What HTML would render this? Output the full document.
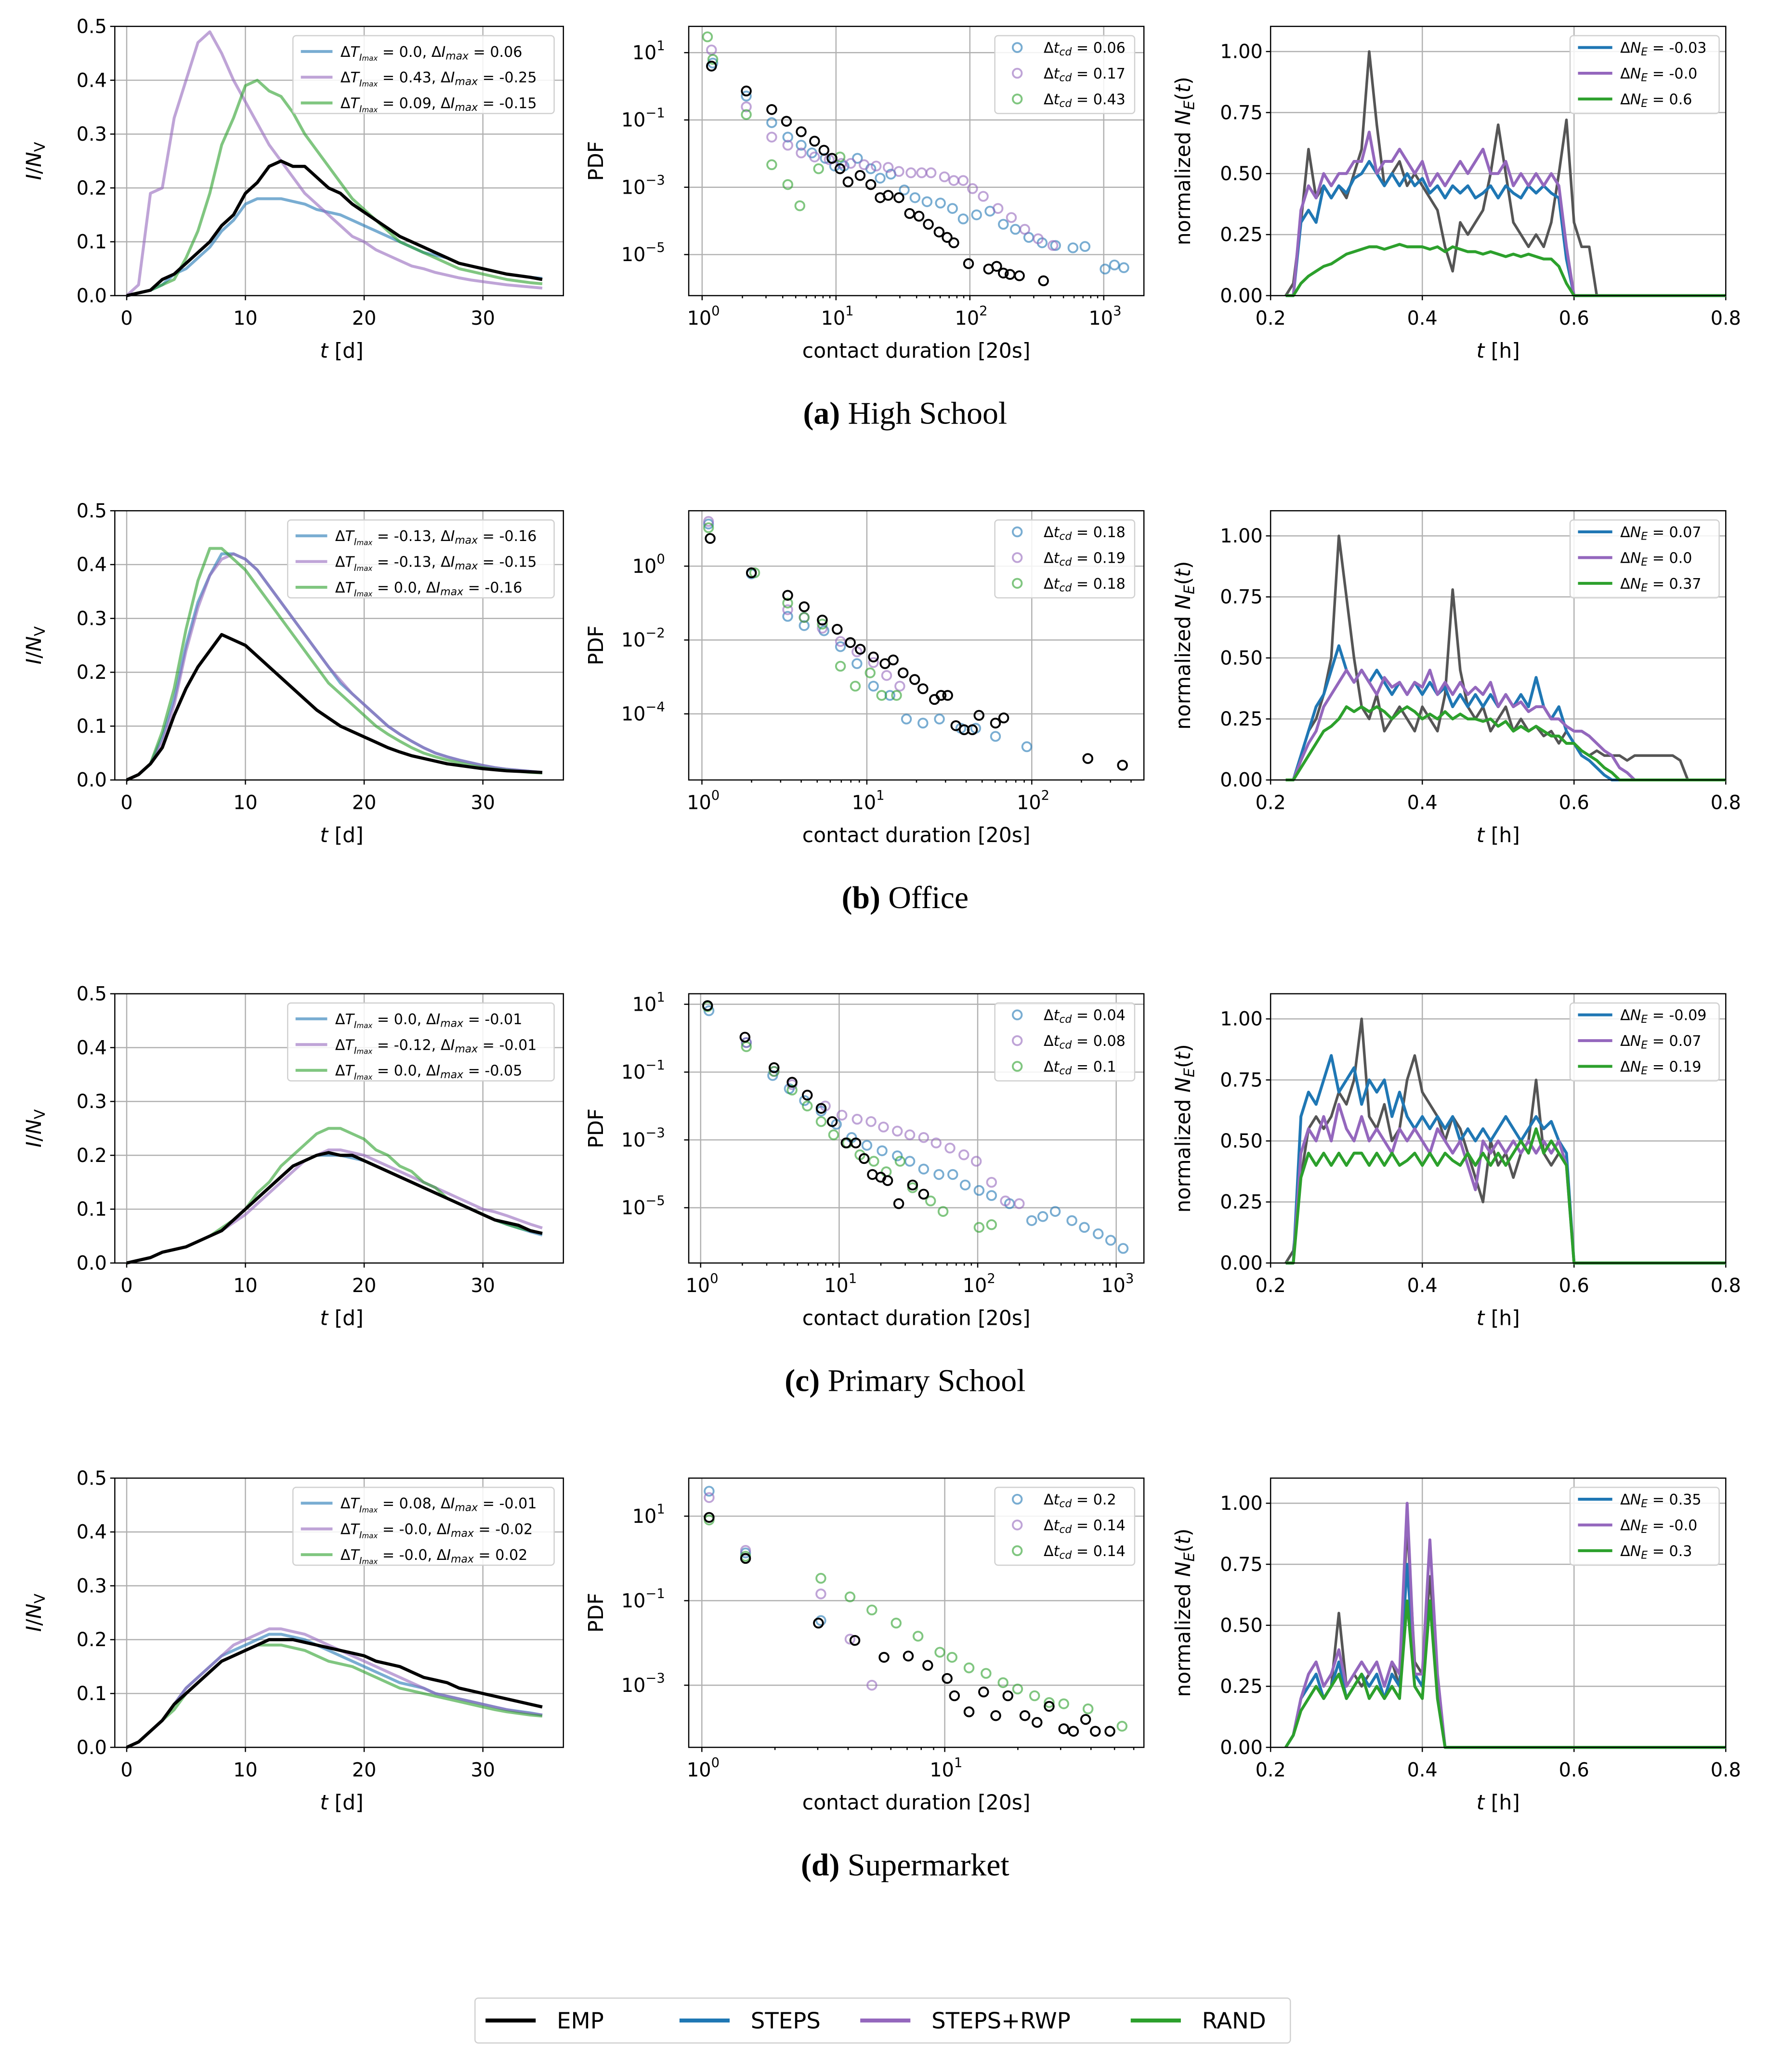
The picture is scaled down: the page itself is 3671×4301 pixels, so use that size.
<!DOCTYPE html>
<html><head><meta charset="utf-8">
<style>
html,body{margin:0;padding:0;background:#fff;}
svg{display:block;}
text{font-family:"DejaVu Sans","Liberation Sans",sans-serif;}
</style></head>
<body>
<svg id="fig" xmlns="http://www.w3.org/2000/svg" width="3671" height="4301" viewBox="0 0 1340 1570">
<rect x="0" y="0" width="1340" height="1570" fill="#fff"/>
</svg>
<script>
// ---------- DATA: epidemic curves (I/N_V per day, t=0..35) ----------
const daysT=[0,1,2,3,4,5,6,7,8,9,10,11,12,13,14,15,16,17,18,19,20,21,22,23,24,25,26,27,28,29,30,31,32,33,34,35];
const epiA_emp=[0,0.005,0.01,0.03,0.04,0.06,0.08,0.1,0.13,0.15,0.19,0.21,0.24,0.25,0.24,0.24,0.22,0.2,0.19,0.17,0.155,0.14,0.125,0.11,0.1,0.09,0.08,0.07,0.06,0.055,0.05,0.045,0.04,0.037,0.034,0.03];
const epiA_steps=[0,0.005,0.01,0.02,0.04,0.05,0.07,0.09,0.12,0.14,0.17,0.18,0.18,0.18,0.175,0.17,0.16,0.155,0.15,0.14,0.13,0.12,0.11,0.1,0.09,0.08,0.075,0.07,0.06,0.055,0.05,0.045,0.04,0.037,0.034,0.032];
const epiA_rwp=[0,0.02,0.19,0.2,0.33,0.4,0.47,0.49,0.45,0.4,0.36,0.32,0.28,0.25,0.22,0.19,0.17,0.15,0.13,0.11,0.1,0.085,0.075,0.065,0.055,0.05,0.043,0.038,0.033,0.029,0.026,0.023,0.02,0.018,0.016,0.014];
const epiA_rand=[0,0.005,0.01,0.02,0.03,0.07,0.12,0.19,0.28,0.33,0.39,0.4,0.38,0.37,0.34,0.3,0.27,0.24,0.21,0.18,0.16,0.14,0.12,0.1,0.09,0.08,0.07,0.06,0.05,0.045,0.04,0.035,0.03,0.027,0.024,0.022];
const epiB_emp=[0,0.01,0.03,0.06,0.12,0.17,0.21,0.24,0.27,0.26,0.25,0.23,0.21,0.19,0.17,0.15,0.13,0.115,0.1,0.09,0.08,0.07,0.06,0.052,0.045,0.04,0.035,0.03,0.027,0.024,0.021,0.019,0.017,0.016,0.015,0.014];
const epiB_steps=[0,0.01,0.03,0.08,0.15,0.25,0.33,0.38,0.42,0.42,0.41,0.39,0.36,0.33,0.3,0.27,0.24,0.21,0.18,0.16,0.14,0.12,0.1,0.085,0.072,0.06,0.05,0.043,0.037,0.032,0.027,0.023,0.02,0.018,0.016,0.014];
const epiB_rwp=[0,0.01,0.03,0.07,0.14,0.24,0.32,0.38,0.41,0.42,0.41,0.39,0.36,0.33,0.3,0.27,0.24,0.21,0.185,0.16,0.14,0.12,0.1,0.085,0.072,0.06,0.05,0.043,0.037,0.032,0.027,0.023,0.02,0.018,0.016,0.014];
const epiB_rand=[0,0.01,0.03,0.09,0.17,0.28,0.37,0.43,0.43,0.41,0.39,0.36,0.33,0.3,0.27,0.24,0.21,0.18,0.16,0.14,0.12,0.1,0.085,0.072,0.06,0.05,0.043,0.037,0.032,0.027,0.023,0.02,0.018,0.016,0.014,0.013];
const epiC_emp=[0,0.005,0.01,0.02,0.025,0.03,0.04,0.05,0.06,0.08,0.1,0.12,0.14,0.16,0.18,0.19,0.2,0.205,0.2,0.2,0.19,0.18,0.17,0.16,0.15,0.14,0.13,0.12,0.11,0.1,0.09,0.08,0.075,0.07,0.06,0.055];
const epiC_steps=[0,0.005,0.01,0.02,0.025,0.03,0.04,0.05,0.06,0.08,0.1,0.12,0.14,0.16,0.18,0.19,0.2,0.2,0.2,0.195,0.19,0.18,0.17,0.16,0.15,0.14,0.13,0.12,0.11,0.1,0.09,0.08,0.072,0.065,0.058,0.052];
const epiC_rwp=[0,0.005,0.01,0.02,0.025,0.03,0.04,0.05,0.06,0.075,0.09,0.11,0.13,0.15,0.17,0.19,0.2,0.21,0.21,0.205,0.2,0.19,0.18,0.17,0.16,0.15,0.14,0.13,0.12,0.11,0.1,0.095,0.088,0.08,0.072,0.065];
const epiC_rand=[0,0.005,0.01,0.02,0.025,0.03,0.04,0.05,0.065,0.08,0.1,0.13,0.15,0.18,0.2,0.22,0.24,0.25,0.25,0.24,0.23,0.21,0.2,0.18,0.17,0.15,0.14,0.12,0.11,0.1,0.09,0.08,0.072,0.065,0.06,0.055];
const epiD_emp=[0,0.01,0.03,0.05,0.08,0.1,0.12,0.14,0.16,0.17,0.18,0.19,0.2,0.2,0.2,0.195,0.19,0.185,0.18,0.175,0.17,0.16,0.155,0.15,0.14,0.13,0.125,0.12,0.11,0.105,0.1,0.095,0.09,0.085,0.08,0.075];
const epiD_steps=[0,0.01,0.03,0.05,0.08,0.11,0.13,0.15,0.17,0.18,0.19,0.2,0.21,0.21,0.205,0.2,0.19,0.18,0.17,0.16,0.15,0.14,0.13,0.12,0.115,0.11,0.1,0.095,0.09,0.085,0.08,0.075,0.07,0.067,0.064,0.06];
const epiD_rwp=[0,0.01,0.03,0.05,0.08,0.11,0.13,0.15,0.17,0.19,0.2,0.21,0.22,0.22,0.215,0.21,0.2,0.19,0.18,0.17,0.16,0.15,0.14,0.13,0.12,0.11,0.1,0.095,0.09,0.085,0.08,0.075,0.07,0.066,0.063,0.06];
const epiD_rand=[0,0.01,0.03,0.05,0.07,0.1,0.12,0.14,0.16,0.17,0.18,0.19,0.19,0.19,0.185,0.18,0.17,0.16,0.155,0.15,0.14,0.13,0.12,0.11,0.105,0.1,0.095,0.09,0.085,0.08,0.075,0.07,0.066,0.063,0.06,0.058];

// ---------- DATA: contact duration PDF (log10 x, log10 y pairs) ----------
const pdfA_emp=[[0.07,0.6],[0.33,-0.14],[0.52,-0.69],[0.63,-1.04],[0.74,-1.35],[0.84,-1.63],[0.91,-1.9],[0.97,-2.14],[1.03,-2.45],[1.09,-2.84],[1.18,-2.65],[1.26,-2.92],[1.33,-3.31],[1.39,-3.24],[1.47,-3.31],[1.55,-3.78],[1.62,-3.86],[1.69,-4.1],[1.77,-4.33],[1.83,-4.49],[1.88,-4.65],[1.99,-5.27],[2.14,-5.43],[2.2,-5.35],[2.25,-5.55],[2.3,-5.59],[2.37,-5.63],[2.55,-5.78]];
const pdfA_steps=[[0.08,0.69],[0.33,-0.29],[0.52,-1.08],[0.64,-1.51],[0.74,-1.75],[0.82,-1.98],[0.92,-2.14],[0.99,-2.37],[1.06,-2.37],[1.16,-2.14],[1.26,-2.45],[1.33,-2.73],[1.41,-2.61],[1.51,-3.08],[1.59,-3.31],[1.68,-3.43],[1.78,-3.47],[1.87,-3.63],[1.95,-3.94],[2.05,-3.82],[2.15,-3.71],[2.25,-4.1],[2.34,-4.25],[2.44,-4.49],[2.54,-4.65],[2.64,-4.73],[2.77,-4.8],[2.86,-4.76],[3.01,-5.43],[3.08,-5.31],[3.15,-5.39]];
const pdfA_rwp=[[0.07,1.08],[0.33,-0.61],[0.52,-1.51],[0.64,-1.75],[0.74,-1.98],[0.84,-2.1],[0.95,-2.18],[1.04,-2.29],[1.11,-2.29],[1.21,-2.33],[1.3,-2.37],[1.39,-2.41],[1.47,-2.53],[1.56,-2.57],[1.64,-2.57],[1.71,-2.57],[1.81,-2.69],[1.88,-2.8],[1.95,-2.8],[2.02,-3.04],[2.1,-3.27],[2.21,-3.63],[2.31,-3.9],[2.41,-4.25],[2.51,-4.53],[2.62,-4.73]];
const pdfA_rand=[[0.04,1.47],[0.08,0.8],[0.33,-0.84],[0.52,-2.33],[0.64,-2.92],[0.73,-3.55],[0.87,-2.45],[1.03,-2.1]];
const pdfB_emp=[[0.05,0.75],[0.3,-0.18],[0.52,-0.79],[0.62,-1.1],[0.73,-1.46],[0.82,-1.71],[0.9,-2.07],[0.96,-2.25],[1.04,-2.46],[1.11,-2.64],[1.16,-2.54],[1.22,-2.89],[1.29,-3.07],[1.34,-3.32],[1.41,-3.61],[1.45,-3.5],[1.49,-3.5],[1.54,-4.32],[1.59,-4.43],[1.64,-4.43],[1.68,-4.04],[1.78,-4.25],[1.83,-4.11],[2.34,-5.21],[2.55,-5.39]];
const pdfB_steps=[[0.04,1.14],[0.3,-0.21],[0.52,-1.36],[0.62,-1.61],[0.74,-1.75],[0.84,-2.18],[0.94,-2.64],[1.04,-3.25],[1.14,-3.5],[1.24,-4.14],[1.34,-4.25],[1.44,-4.14],[1.57,-4.39],[1.66,-4.39],[1.78,-4.61],[1.97,-4.89]];
const pdfB_rwp=[[0.04,1.21],[0.3,-0.18],[0.52,-1.18],[0.62,-1.39],[0.73,-1.68],[0.84,-2.04],[0.94,-2.32],[1.04,-2.61],[1.12,-2.96],[1.2,-3.25]];
const pdfB_rand=[[0.04,1.04],[0.32,-0.18],[0.52,-1.0],[0.62,-1.39],[0.73,-1.57],[0.84,-2.71],[0.93,-3.25],[1.02,-2.89],[1.09,-3.5],[1.18,-3.5]];
const pdfC_emp=[[0.05,0.96],[0.32,0.03],[0.53,-0.87],[0.66,-1.3],[0.77,-1.68],[0.87,-2.07],[0.95,-2.46],[1.05,-3.09],[1.12,-3.09],[1.18,-3.55],[1.24,-4.02],[1.3,-4.1],[1.35,-4.2],[1.43,-4.88],[1.53,-4.33],[1.61,-4.6]];
const pdfC_steps=[[0.06,0.81],[0.33,-0.13],[0.52,-1.1],[0.64,-1.49],[0.75,-1.84],[0.87,-2.15],[0.98,-2.54],[1.09,-2.93],[1.2,-3.16],[1.31,-3.32],[1.42,-3.47],[1.51,-3.63],[1.61,-3.86],[1.72,-4.02],[1.82,-4.02],[1.91,-4.33],[2.01,-4.49],[2.1,-4.64],[2.23,-4.88],[2.39,-5.38],[2.47,-5.26],[2.56,-5.11],[2.68,-5.38],[2.77,-5.58],[2.87,-5.77],[2.96,-5.96],[3.05,-6.2]];
const pdfC_rwp=[[0.05,0.96],[0.33,-0.13],[0.53,-0.98],[0.66,-1.37],[0.77,-1.68],[0.9,-2.0],[1.02,-2.27],[1.13,-2.39],[1.23,-2.46],[1.32,-2.62],[1.42,-2.74],[1.51,-2.85],[1.61,-2.93],[1.7,-3.09],[1.8,-3.24],[1.9,-3.44],[1.99,-3.63],[2.1,-4.25],[2.2,-4.8],[2.3,-4.88]];
const pdfC_rand=[[0.05,0.93],[0.33,-0.25],[0.53,-0.98],[0.66,-1.53],[0.77,-2.0],[0.87,-2.46],[0.96,-2.85],[1.06,-3.09],[1.15,-3.44],[1.25,-3.63],[1.34,-3.94],[1.44,-3.63],[1.53,-4.41],[1.66,-4.8],[1.75,-5.11],[2.01,-5.58],[2.1,-5.5]];
const pdfD_emp=[[0.03,0.97],[0.18,0],[0.48,-1.53],[0.63,-1.94],[0.75,-2.34],[0.85,-2.31],[0.93,-2.53],[1.01,-2.84],[1.04,-3.25],[1.1,-3.63],[1.16,-3.16],[1.21,-3.72],[1.26,-3.25],[1.33,-3.72],[1.38,-3.88],[1.43,-3.5],[1.49,-4.03],[1.53,-4.09],[1.58,-3.81],[1.62,-4.09],[1.68,-4.09]];
const pdfD_steps=[[0.03,1.59],[0.18,0.13],[0.49,-1.47]];
const pdfD_rwp=[[0.03,1.44],[0.18,0.19],[0.49,-0.84],[0.61,-1.91],[0.7,-3.0]];
const pdfD_rand=[[0.03,0.91],[0.18,0.05],[0.49,-0.47],[0.61,-0.91],[0.7,-1.22],[0.8,-1.53],[0.89,-1.84],[0.98,-2.22],[1.03,-2.34],[1.1,-2.59],[1.17,-2.72],[1.24,-2.94],[1.3,-3.09],[1.37,-3.25],[1.43,-3.41],[1.49,-3.44],[1.59,-3.56],[1.73,-3.97]];

// ---------- DATA: normalized N_E(t) (t from 0.22 h, step 0.01 h) ----------
const neStart=0.22, neStep=0.01;
const neA_emp=[0,0.05,0.3,0.6,0.4,0.45,0.4,0.45,0.4,0.5,0.6,1.0,0.7,0.45,0.5,0.55,0.45,0.5,0.45,0.4,0.35,0.2,0.1,0.3,0.25,0.3,0.35,0.5,0.7,0.5,0.3,0.25,0.2,0.25,0.2,0.3,0.5,0.72,0.3,0.2,0.2,0];
const neA_steps=[0,0,0.3,0.35,0.3,0.45,0.4,0.45,0.42,0.48,0.5,0.55,0.5,0.45,0.5,0.45,0.5,0.45,0.48,0.42,0.45,0.4,0.45,0.42,0.45,0.4,0.42,0.45,0.4,0.45,0.42,0.4,0.45,0.42,0.45,0.42,0.4,0.15,0];
const neA_rwp=[0,0,0.35,0.45,0.4,0.5,0.45,0.5,0.5,0.55,0.55,0.67,0.5,0.55,0.55,0.6,0.55,0.5,0.55,0.45,0.5,0.45,0.5,0.55,0.5,0.55,0.6,0.5,0.5,0.55,0.45,0.5,0.45,0.5,0.45,0.5,0.45,0.2,0];
const neA_rand=[0,0,0.05,0.08,0.1,0.12,0.13,0.15,0.17,0.18,0.19,0.2,0.2,0.19,0.2,0.21,0.2,0.2,0.2,0.19,0.2,0.18,0.2,0.19,0.18,0.18,0.17,0.18,0.17,0.16,0.17,0.16,0.17,0.16,0.15,0.15,0.12,0.05,0];
const neB_emp=[0,0,0.1,0.2,0.25,0.35,0.5,1.0,0.75,0.5,0.3,0.25,0.35,0.2,0.25,0.3,0.25,0.2,0.3,0.25,0.2,0.35,0.78,0.45,0.3,0.25,0.3,0.2,0.25,0.3,0.2,0.25,0.2,0.22,0.18,0.2,0.15,0.2,0.15,0.12,0.1,0.12,0.1,0.1,0.1,0.08,0.1,0.1,0.1,0.1,0.1,0.1,0.08,0];
const neB_steps=[0,0,0.1,0.2,0.3,0.35,0.45,0.55,0.45,0.4,0.45,0.4,0.45,0.4,0.35,0.4,0.35,0.4,0.35,0.4,0.35,0.38,0.3,0.35,0.3,0.35,0.3,0.35,0.3,0.35,0.3,0.35,0.3,0.42,0.3,0.25,0.3,0.2,0.15,0.1,0.08,0.05,0.02,0];
const neB_rwp=[0,0,0.08,0.15,0.2,0.3,0.35,0.4,0.45,0.4,0.45,0.4,0.35,0.42,0.38,0.4,0.35,0.4,0.38,0.45,0.35,0.4,0.35,0.4,0.35,0.38,0.35,0.4,0.3,0.35,0.3,0.32,0.28,0.3,0.3,0.25,0.25,0.22,0.2,0.2,0.18,0.15,0.12,0.1,0.05,0.03,0];
const neB_rand=[0,0,0.05,0.1,0.15,0.2,0.22,0.25,0.3,0.28,0.3,0.28,0.3,0.28,0.25,0.28,0.3,0.28,0.25,0.27,0.25,0.28,0.25,0.27,0.25,0.25,0.24,0.25,0.22,0.24,0.2,0.22,0.2,0.22,0.2,0.18,0.18,0.15,0.15,0.12,0.1,0.08,0.05,0.03,0];
const neC_emp=[0,0.05,0.35,0.55,0.6,0.55,0.6,0.7,0.65,0.75,1.0,0.6,0.55,0.65,0.5,0.55,0.75,0.85,0.7,0.65,0.6,0.5,0.6,0.55,0.45,0.35,0.25,0.5,0.4,0.45,0.35,0.45,0.5,0.75,0.45,0.4,0.45,0.4,0];
const neC_steps=[0,0,0.6,0.7,0.65,0.75,0.85,0.7,0.75,0.8,0.65,0.75,0.7,0.75,0.6,0.7,0.6,0.55,0.6,0.55,0.6,0.55,0.6,0.5,0.55,0.5,0.55,0.5,0.55,0.6,0.55,0.5,0.55,0.6,0.55,0.58,0.5,0.45,0];
const neC_rwp=[0,0,0.45,0.55,0.5,0.6,0.5,0.65,0.55,0.5,0.6,0.5,0.55,0.5,0.45,0.55,0.5,0.55,0.5,0.45,0.55,0.5,0.45,0.5,0.4,0.3,0.5,0.45,0.5,0.45,0.5,0.45,0.5,0.45,0.5,0.45,0.5,0.4,0];
const neC_rand=[0,0,0.35,0.45,0.4,0.45,0.4,0.45,0.4,0.45,0.45,0.4,0.45,0.4,0.45,0.4,0.42,0.45,0.4,0.45,0.4,0.45,0.42,0.4,0.45,0.4,0.45,0.4,0.45,0.4,0.45,0.5,0.45,0.55,0.45,0.5,0.45,0.4,0];
const neD_emp=[0,0.05,0.2,0.25,0.3,0.2,0.25,0.55,0.25,0.3,0.25,0.3,0.35,0.25,0.35,0.25,0.92,0.35,0.3,0.7,0.3,0];
const neD_steps=[0,0.05,0.2,0.25,0.3,0.2,0.25,0.35,0.2,0.25,0.3,0.25,0.3,0.2,0.3,0.25,0.75,0.3,0.25,0.6,0.25,0];
const neD_rwp=[0,0.05,0.2,0.3,0.35,0.25,0.3,0.4,0.25,0.3,0.35,0.3,0.35,0.25,0.35,0.3,1.0,0.3,0.3,0.85,0.3,0];
const neD_rand=[0,0.05,0.15,0.2,0.25,0.2,0.25,0.3,0.2,0.25,0.3,0.2,0.25,0.2,0.25,0.2,0.6,0.25,0.2,0.6,0.2,0];

// ---------- DATA: legend values ----------
const epiLegA=[["0.0","0.06"],["0.43","-0.25"],["0.09","-0.15"]];
const epiLegB=[["-0.13","-0.16"],["-0.13","-0.15"],["0.0","-0.16"]];
const epiLegC=[["0.0","-0.01"],["-0.12","-0.01"],["0.0","-0.05"]];
const epiLegD=[["0.08","-0.01"],["-0.0","-0.02"],["-0.0","0.02"]];
const cdLegA=["0.06","0.17","0.43"],cdLegB=["0.18","0.19","0.18"],cdLegC=["0.04","0.08","0.1"],cdLegD=["0.2","0.14","0.14"];
const neLegA=["-0.03","-0.0","0.6"],neLegB=["0.07","0.0","0.37"],neLegC=["-0.09","0.07","0.19"],neLegD=["0.35","-0.0","0.3"];
const captions=[["(a)","High School"],["(b)","Office"],["(c)","Primary School"],["(d)","Supermarket"]];

// ---------- rendering ----------
const NS='http://www.w3.org/2000/svg';
const svg=document.getElementById('fig');
function mk(tag,parent){const e=document.createElementNS(NS,tag);parent.appendChild(e);return e;}
function set(e,o){for(const k in o)e.setAttribute(k,o[k]);return e;}
const C={emp:'#000000',steps:'#1f77b4',rwp:'#9467bd',rand:'#2ca02c'};
const ROWS=[20,387,753,1120], H=204;
const COLX=[[87,427],[522,867],[963,1308]];
const rowKeys=['A','B','C','D'];

function frame(g,x0,y0,x1,y1){
  const r=mk('rect',g);set(r,{x:x0,y:y0,width:x1-x0,height:y1-y0,fill:'none',stroke:'#000','stroke-width':0.9});
  
}
function grid(g,x1,y1,x2,y2){const l=mk('line',g);set(l,{x1,y1,x2,y2,stroke:'#b0b0b0','stroke-width':0.9});
  }
function tick(g,x1,y1,x2,y2){const l=mk('line',g);set(l,{x1,y1,x2,y2,stroke:'#000','stroke-width':0.9});
  }
function txt(g,x,y,html,size,anchor,extra){const t=mk('text',g);set(t,{x,y,'font-size':size,'text-anchor':anchor||'start',fill:'#000'});
  if(extra)set(t,extra);t.innerHTML=html;return t;}
function poly(g,pts,color,w,op){const p=mk('polyline',g);set(p,{points:pts.map(q=>q[0].toFixed(2)+','+q[1].toFixed(2)).join(' '),fill:'none',stroke:color,'stroke-width':w,'stroke-opacity':op,'stroke-linejoin':'round'});return p;}

const epiData={A:[epiA_emp,epiA_steps,epiA_rwp,epiA_rand],B:[epiB_emp,epiB_steps,epiB_rwp,epiB_rand],C:[epiC_emp,epiC_steps,epiC_rwp,epiC_rand],D:[epiD_emp,epiD_steps,epiD_rwp,epiD_rand]};
const epiLeg={A:epiLegA,B:epiLegB,C:epiLegC,D:epiLegD};
const pdfData={A:[pdfA_emp,pdfA_steps,pdfA_rwp,pdfA_rand],B:[pdfB_emp,pdfB_steps,pdfB_rwp,pdfB_rand],C:[pdfC_emp,pdfC_steps,pdfC_rwp,pdfC_rand],D:[pdfD_emp,pdfD_steps,pdfD_rwp,pdfD_rand]};
const cdLeg={A:cdLegA,B:cdLegB,C:cdLegC,D:cdLegD};
const neData={A:[neA_emp,neA_steps,neA_rwp,neA_rand],B:[neB_emp,neB_steps,neB_rwp,neB_rand],C:[neC_emp,neC_steps,neC_rwp,neC_rand],D:[neD_emp,neD_steps,neD_rwp,neD_rand]};
const neLeg={A:neLegA,B:neLegB,C:neLegC,D:neLegD};
const logCfg={A:{xmin:-0.1,xmax:3.3,ymin:-6.22,ymax:1.78,xt:[0,1,2,3],yt:[1,-1,-3,-5]},
  B:{xmin:-0.08,xmax:2.68,ymin:-5.79,ymax:1.5,xt:[0,1,2],yt:[0,-2,-4]},
  C:{xmin:-0.086,xmax:3.2,ymin:-6.63,ymax:1.31,xt:[0,1,2,3],yt:[1,-1,-3,-5]},
  D:{xmin:-0.054,xmax:1.82,ymin:-4.47,ymax:1.9,xt:[0,1],yt:[1,-1,-3]}};
const names=['emp','steps','rwp','rand'];
const FS=14.5;

function legendBox(g,x,y,w,h){const r=mk('rect',g);set(r,{x,y,width:w,height:h,rx:2.5,fill:'#fff','fill-opacity':0.85,stroke:'#d0d0d0','stroke-width':0.9});
  }

ROWS.forEach((y0,ri)=>{
  const key=rowKeys[ri], y1=y0+H;
  {
    const [X0,X1]=COLX[0];
    const g=mk('g',svg);
    const xs=t=>X0+(t+1)/37.78*(X1-X0), ys=v=>y1-v/0.5*H;
    [0,10,20,30].forEach(t=>{grid(g,xs(t),y0,xs(t),y1);tick(g,xs(t),y1,xs(t),y1+3.5);
      const l=txt(g,xs(t),y1+22,String(t),FS,'middle');});
    [0,0.1,0.2,0.3,0.4,0.5].forEach(v=>{grid(g,X0,ys(v),X1,ys(v));tick(g,X0-3.5,ys(v),X0,ys(v));
      const l=txt(g,X0-6,ys(v)+5,v.toFixed(1),FS,'end');});
    const ds=epiData[key];
    [1,2,3,0].forEach(si=>{
      const p=poly(g,daysT.map((t,i)=>[xs(t),ys(ds[si][i])]),C[names[si]],si===0?2.4:2.2,si===0?1:0.6);
      
    });
    frame(g,X0,y0,X1,y1);
    const xl=txt(g,(X0+X1)/2+2,y1+47,'<tspan font-style="italic">t</tspan> [d]',15.5,'middle');
    const yl=txt(g,0,0,'<tspan font-style="italic">I</tspan>/<tspan font-style="italic">N</tspan><tspan font-size="11" dy="3">V</tspan>',15.5,'middle',{transform:`translate(31,${y0+H/2}) rotate(-90)`});
    
    const lg=mk('g',g);
    const lx=key==='A'||key==='D'?222:218;
    legendBox(lg,lx,y0+7,X1-7-lx,59);
    epiLeg[key].forEach((v,i)=>{
      const yy=y0+19+i*19.5;
      const l=mk('line',lg);set(l,{x1:lx+6,y1:yy,x2:lx+30,y2:yy,stroke:C[names[i+1]],'stroke-width':2.2,'stroke-opacity':0.6});
      
      const t=txt(lg,lx+36,yy+4,`Δ<tspan font-style="italic">T</tspan><tspan font-size="7" dy="3" font-style="italic">I<tspan font-size="5.5">max</tspan></tspan><tspan dy="-3"> = ${v[0]}, Δ</tspan><tspan font-style="italic">I</tspan><tspan font-size="8" dy="2" font-style="italic">max</tspan><tspan dy="-2"> = ${v[1]}</tspan>`,11,'start');
      
    });
  }
  {
    const [X0,X1]=COLX[1], cf=logCfg[key];
    const g=mk('g',svg);
    const xs=v=>X0+(v-cf.xmin)/(cf.xmax-cf.xmin)*(X1-X0), ys=v=>y1-(v-cf.ymin)/(cf.ymax-cf.ymin)*H;
    cf.xt.forEach(e=>{grid(g,xs(e),y0,xs(e),y1);tick(g,xs(e),y1,xs(e),y1+3.5);
      for(let k=2;k<10;k++){const m=e+Math.log10(k);if(m<cf.xmax)tick(g,xs(m),y1,xs(m),y1+2);}
      const l=txt(g,xs(e)+1,y1+22,`10<tspan font-size="10" dy="-7">${e}</tspan>`,FS,'middle');});
    cf.yt.forEach(e=>{grid(g,X0,ys(e),X1,ys(e));tick(g,X0-3.5,ys(e),X0,ys(e));
      const l=txt(g,X0-18,ys(e)+5,`10<tspan font-size="10" dy="-7">${e<0?'−'+(-e):e}</tspan>`,FS,'end');});
    const ds=pdfData[key];
    [1,2,3,0].forEach(si=>{
      const sg=mk('g',g);
      ds[si].forEach(p=>{const c=mk('circle',sg);set(c,{cx:xs(p[0]),cy:ys(p[1]),r:3.4,fill:'none',stroke:C[names[si]],'stroke-width':1.4,'stroke-opacity':si===0?1:0.6});
        });
    });
    frame(g,X0,y0,X1,y1);
    const xl=txt(g,(X0+X1)/2,y1+47,'contact duration [20s]',15.5,'middle');
    const yl=txt(g,0,0,'PDF',15.5,'middle',{transform:`translate(${X0-65},${y0+H/2}) rotate(-90)`});
    const lg=mk('g',g);
    legendBox(lg,754,y0+7,106,59);
    cdLeg[key].forEach((v,i)=>{const yy=y0+16+i*19.5;
      const c=mk('circle',lg);set(c,{cx:771,cy:yy,r:3.4,fill:'none',stroke:C[names[i+1]],'stroke-width':1.4,'stroke-opacity':0.6});
      
      const t=txt(lg,791,yy+4,`Δ<tspan font-style="italic">t</tspan><tspan font-size="8" dy="2" font-style="italic">cd</tspan><tspan dy="-2"> = ${v}</tspan>`,11,'start');
      });
  }
  {
    const [X0,X1]=COLX[2];
    const g=mk('g',svg);
    const xs=v=>X0+(v-0.2)/0.6*(X1-X0), ys=v=>y1-v/1.103*H;
    [0.2,0.4,0.6,0.8].forEach(v=>{grid(g,xs(v),y0,xs(v),y1);tick(g,xs(v),y1,xs(v),y1+3.5);
      const l=txt(g,xs(v),y1+22,v.toFixed(1),FS,'middle');});
    [0,0.25,0.5,0.75,1].forEach(v=>{grid(g,X0,ys(v),X1,ys(v));tick(g,X0-3.5,ys(v),X0,ys(v));
      const l=txt(g,X0-6,ys(v)+5,v.toFixed(2),FS,'end');});
    const ds=neData[key];
    [0,1,2,3].forEach(si=>{
      const pts=ds[si].map((v,i)=>[xs(neStart+i*neStep),ys(v)]);
      pts.push([xs(0.8),ys(0)]);
      const p=poly(g,pts,si===0?'#555555':C[names[si]],si===0?2:2.2,1);
      
    });
    frame(g,X0,y0,X1,y1);
    const xl=txt(g,(X0+X1)/2,y1+47,'<tspan font-style="italic">t</tspan> [h]',15.5,'middle');
    const yl=txt(g,0,0,'normalized <tspan font-style="italic">N</tspan><tspan font-size="11" dy="3" font-style="italic">E</tspan><tspan dy="-3">(</tspan><tspan font-style="italic">t</tspan>)',15.5,'middle',{transform:`translate(${X0-61},${y0+H/2}) rotate(-90)`});
    
    const lg=mk('g',g);
    legendBox(lg,1190,y0+7,113,59);
    neLeg[key].forEach((v,i)=>{const yy=y0+16+i*19.5;
      const l=mk('line',lg);set(l,{x1:1196,y1:yy,x2:1222,y2:yy,stroke:C[names[i+1]],'stroke-width':2.2});
      
      const t=txt(lg,1228,yy+4,`Δ<tspan font-style="italic">N</tspan><tspan font-size="8" dy="2" font-style="italic">E</tspan><tspan dy="-2"> = ${v}</tspan>`,11,'start');
      });
  }
  const cap=txt(svg,686,y0+301,`<tspan font-weight="bold">${captions[ri][0]}</tspan> ${captions[ri][1]}`,24,'middle',{style:'font-family:"Liberation Serif",serif'});
  
});

const bl=mk('g',svg);
legendBox(bl,360,1514,618,34);
const mainLegLabels=['EMP','STEPS','STEPS+RWP','RAND'];
const mainLegX=[368,515,652,857];
mainLegLabels.forEach((lab,i)=>{
  const l=mk('line',bl);set(l,{x1:mainLegX[i],y1:1531,x2:mainLegX[i]+38,y2:1531,stroke:C[names[i]],'stroke-width':3});
  
  const t=txt(bl,mainLegX[i]+54,1537,lab,17,'start');
  
});
</script>
</body></html>
